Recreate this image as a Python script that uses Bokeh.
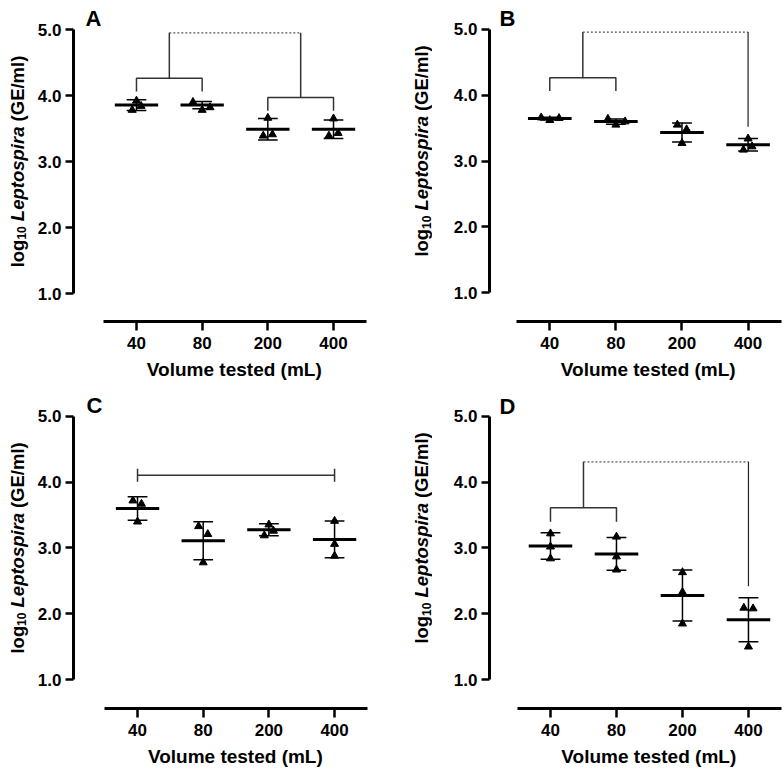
import math
from bokeh.plotting import figure
from bokeh.models import Range1d, FixedTicker, PrintfTickFormatter, Label, Title
from bokeh.layouts import row, column
from bokeh.core.properties import value
from bokeh.embed import file_html
from bokeh.resources import INLINE

# ---------------- data ----------------
categories = ["40", "80", "200", "400"]

a_points = [[3.92, 3.84, 3.78], [3.90, 3.78, 3.82], [3.66, 3.39, 3.41], [3.65, 3.39, 3.43]]
a_jitter = [[0.0, 0.07, -0.065], [-0.14, 0.0, 0.12], [0.0, -0.07, 0.07], [0.0, -0.07, 0.07]]
a_mean = [3.855, 3.855, 3.49, 3.49]
a_sd = [0.081, 0.055, 0.163, 0.14]

b_points = [[3.66, 3.62, 3.65], [3.64, 3.55, 3.60], [3.55, 3.48, 3.27], [3.34, 3.17, 3.22]]
b_jitter = [[-0.13, 0.0, 0.14], [-0.12, 0.0, 0.14], [-0.07, 0.07, 0.0], [0.0, -0.07, 0.06]]
b_mean = [3.645, 3.60, 3.433, 3.247]
b_sd = [0.02, 0.04, 0.145, 0.095]

c_points = [[3.72, 3.67, 3.40], [3.33, 3.21, 2.78], [3.355, 3.19, 3.26], [3.41, 3.06, 2.88]]
c_jitter = [[-0.07, 0.06, 0.0], [-0.07, 0.07, 0.0], [0.0, -0.07, 0.07], [0.0, 0.0, 0.0]]
c_mean = [3.60, 3.11, 3.277, 3.13]
c_sd = [0.18, 0.29, 0.09, 0.28]

d_points = [[3.22, 3.02, 2.84], [3.17, 2.87, 2.67], [2.63, 2.33, 1.85], [2.09, 2.08, 1.50]]
d_jitter = [[0.0, 0.0, 0.0], [0.0, 0.0, 0.0], [0.0, 0.0, 0.0], [-0.07, 0.07, 0.0]]
d_mean = [3.03, 2.91, 2.277, 1.91]
d_sd = [0.20, 0.25, 0.387, 0.333]

y_ticks = [1, 2, 3, 4, 5]
x_title = "Volume tested (mL)"

# significance bracket annotations
a_pairs = [(0, 1, 4.26, 4.06), (2, 3, 3.97, 3.77)]
a_link = (4.95, 0.5, 2.5)
a_drops = []
b_pairs = [(0, 1, 4.267, 4.065)]
b_link = (4.96, 0.5, 3)
b_drops = [(3, 3.52)]
d_pairs = [(0, 1, 3.61, 3.40)]
d_link = (4.31, 0.5, 3)
d_drops = [(3, 2.42)]
c_bar = (0, 3, 4.106)

FONT = "Liberation Sans"
H = 386
PXU = 66.0  # pixels per log unit
CW = {"l": 278, "o": 611, "g": 611, "1": 556, "0": 556, " ": 278, "L": 611, "e": 556,
      "p": 611, "t": 333, "s": 556, "i": 278, "r": 389, "a": 556, "(": 333, "G": 778,
      "E": 667, "/": 278, "m": 889, ")": 333, "V": 667, "u": 611, "d": 611}


def tw(s, size):
    return sum(CW[c] for c in s) / 1000.0 * size


def ylabel_fig(width, yr, mbb, baseline_x, centre_val):
    """Narrow figure holding the rotated, mixed-style y axis title."""
    f = figure(width=width, height=H, x_range=Range1d(0, width), y_range=yr,
               output_backend="svg", toolbar_location=None, x_axis_location=None,
               y_axis_location=None, min_border_left=0, min_border_right=0,
               min_border_top=0, min_border_bottom=mbb)
    f.outline_line_color = None
    f.grid.visible = False
    main, sub = 18.5, 12
    w_log, w_10, w_sp = tw("log", main), tw("10", sub), tw(" ", main)
    w_lep, w_ge = tw("Leptospira", main), tw("(GE/ml)", main)
    L = w_log + w_10 + w_sp + w_lep + w_sp + w_ge
    s0 = -L / 2
    pieces = [("log", s0, 0, main, "bold"),
              ("10", s0 + w_log, 4.5, sub, "bold"),
              ("Leptospira", s0 + w_log + w_10 + w_sp, 0, main, "bold italic"),
              ("(GE/ml)", s0 + w_log + w_10 + w_sp + w_lep + w_sp, 0, main, "bold")]
    for txt, off, dx, size, style in pieces:
        f.text(x=[baseline_x + dx], y=[centre_val + off / PXU], text=[txt], angle=math.pi / 2,
               text_align="left", text_baseline="alphabetic", text_font=value(FONT),
               text_font_style=value(style), text_font_size=value(f"{size}px"),
               text_color="black")
    return f


def make_panel(letter, points, jitter, mean, sd, width, mbl, mbr, top5, mbb, xr,
               letter_dx, letter_dy):
    frame_h = H - mbb
    y_end = 5 + top5 / PXU
    y_start = y_end - frame_h / PXU
    yr = Range1d(y_start, y_end)
    p = figure(width=width, height=H, x_range=Range1d(*xr), y_range=yr,
               output_backend="svg", toolbar_location=None,
               min_border_left=mbl, min_border_right=mbr, min_border_top=0,
               min_border_bottom=mbb)
    p.outline_line_color = None
    p.grid.visible = False

    xa = p.xaxis[0]
    xa.ticker = FixedTicker(ticks=list(range(len(categories))))
    xa.major_label_overrides = {i: c for i, c in enumerate(categories)}
    xa.bounds = (-0.5, len(categories) - 0.5)
    ya = p.yaxis[0]
    ya.ticker = FixedTicker(ticks=y_ticks)
    ya.formatter = PrintfTickFormatter(format="%.1f")
    ya.bounds = (y_ticks[0], y_ticks[-1])
    for ax in (xa, ya):
        ax.axis_line_width = 3
        ax.axis_line_color = "black"
        ax.major_tick_line_width = 2.5
        ax.major_tick_line_color = "black"
        ax.major_tick_in = 0
        ax.major_tick_out = 8
        ax.minor_tick_line_color = None
        ax.major_label_text_font = FONT
        ax.major_label_text_font_style = "bold"
        ax.major_label_text_font_size = "17px"
        ax.major_label_text_color = "black"
        ax.major_label_standoff = 4
    xa.major_tick_out = 9
    xa.major_label_standoff = 6

    n = len(categories)
    xs = list(range(n))
    lo = [m - s for m, s in zip(mean, sd)]
    hi = [m + s for m, s in zip(mean, sd)]
    p.segment(x0=xs, x1=xs, y0=lo, y1=hi, line_color="black", line_width=1.5)
    cw = 0.15
    p.segment(x0=[x - cw for x in xs], x1=[x + cw for x in xs], y0=hi, y1=hi,
              line_color="black", line_width=1.5)
    p.segment(x0=[x - cw for x in xs], x1=[x + cw for x in xs], y0=lo, y1=lo,
              line_color="black", line_width=1.5)
    mw = 0.33
    p.segment(x0=[x - mw for x in xs], x1=[x + mw for x in xs], y0=mean, y1=mean,
              line_color="black", line_width=3)
    px, py = [], []
    for i, (vals, jit) in enumerate(zip(points, jitter)):
        for v, j in zip(vals, jit):
            px.append(i + j)
            py.append(v)
    p.scatter(px, py, marker="triangle", size=8, fill_color="black", line_color="black")

    # x axis title, centred on the middle category
    size = 19
    centre_px = ((n - 1) / 2 - xr[0]) * (width - mbl - mbr) / (xr[1] - xr[0])
    p.add_layout(Title(text=x_title, align="left", offset=centre_px - tw(x_title, size) / 2,
                       text_font=FONT, text_font_style="bold", text_font_size=f"{size}px",
                       text_color="black", standoff=11), "below")
    # panel letter (inside the frame, which reaches the canvas top)
    p.add_layout(Label(x=xr[0], y=5, x_offset=letter_dx, y_offset=letter_dy, text=letter,
                       text_align="left", text_baseline="alphabetic", text_font=FONT,
                       text_font_style="bold", text_font_size="22px", text_color="black"))
    return p, yr


def draw_pairs(p, pairs, link, drops):
    link_y, lx0, lx1 = link
    for l, r, bar, leg in pairs:
        p.line([l, l, r, r], [leg, bar, bar, leg], line_color="#333333", line_width=1.5)
        mid = (l + r) / 2
        p.line([mid, mid], [bar, link_y], line_color="#333333", line_width=1.5)
    p.line([lx0, lx1], [link_y, link_y], line_color="#555555", line_width=1.2,
           line_dash="2 2")
    for x, yb in drops:
        p.line([x, x], [link_y, yb], line_color="#222222", line_width=1.2)


pa, yra = make_panel("A", a_points, a_jitter, a_mean, a_sd, 360, 41, 14, 29, 65,
                     (-0.959, 3.685), 12, 10.7)
draw_pairs(pa, a_pairs, a_link, a_drops)
ya_lab = ylabel_fig(32, yra, 65, 16.5, 3.0)

pb, yrb = make_panel("B", b_points, b_jitter, b_mean, b_sd, 352, 57, 0, 29, 64,
                     (-0.912, 3.551), 10, 11)
draw_pairs(pb, b_pairs, b_link, b_drops)
yb_lab = ylabel_fig(40, yrb, 64, 29, 3.0 + 10 / PXU)

pc, yrc = make_panel("C", c_points, c_jitter, c_mean, c_sd, 360, 41, 14, 30, 63,
                     (-0.975, 3.669), 13, 11)
l, r, yb = c_bar
pc.line([l, r], [yb, yb], line_color="#333333", line_width=1.5)
pc.segment(x0=[l, r], x1=[l, r], y0=[yb - 0.1, yb - 0.1], y1=[yb + 0.1, yb + 0.1],
           line_color="#333333", line_width=1.5)
yc_lab = ylabel_fig(32, yrc, 63, 16.5, 3.0)

pd_, yrd = make_panel("D", d_points, d_jitter, d_mean, d_sd, 352, 57, 0, 30, 63,
                      (-0.924, 3.546), 10, 10)
draw_pairs(pd_, d_pairs, d_link, d_drops)
yd_lab = ylabel_fig(40, yrd, 63, 29, 3.0 + 10 / PXU)

layout = column(row(ya_lab, pa, yb_lab, pb), row(yc_lab, pc, yd_lab, pd_))

open("out.html", "w").write(file_html(layout, INLINE))
